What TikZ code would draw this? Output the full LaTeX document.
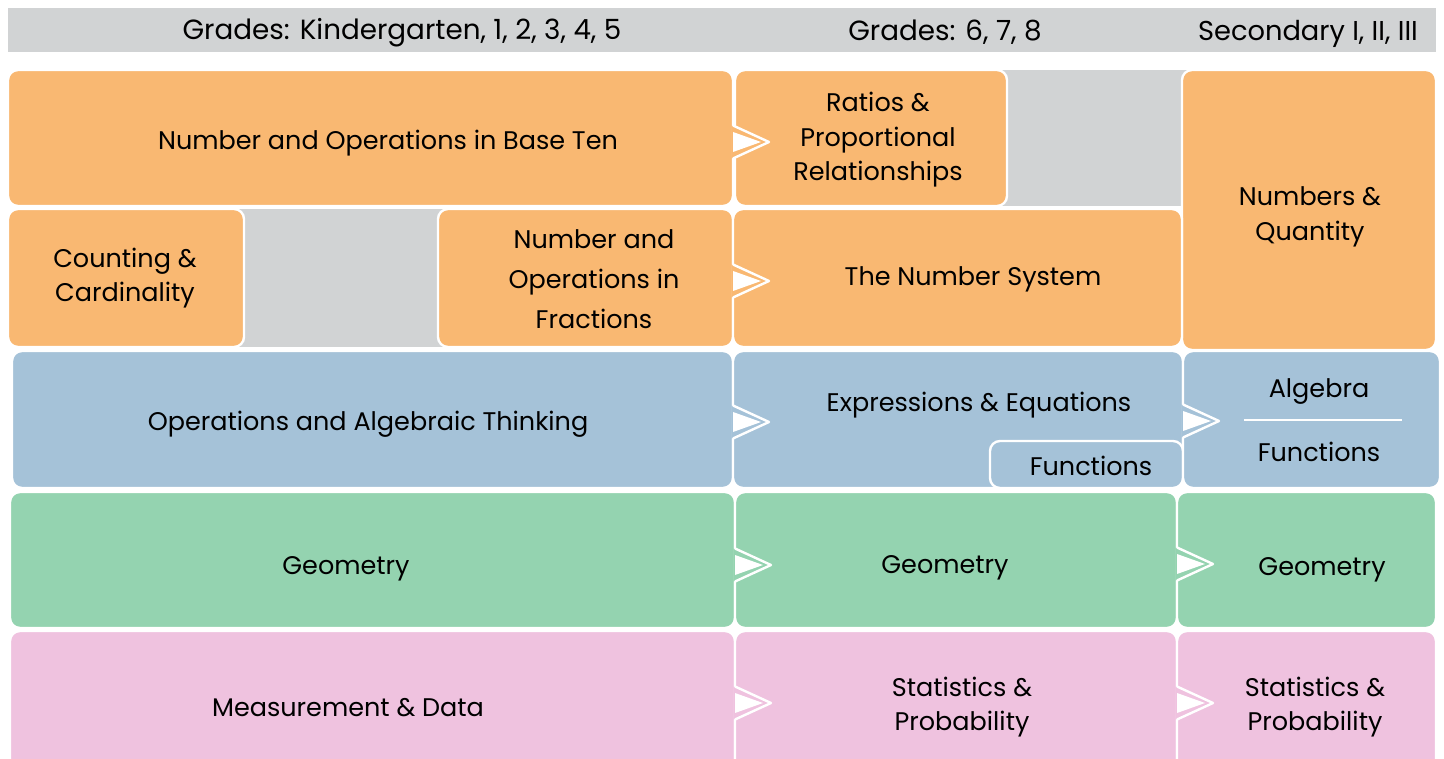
\documentclass[tikz,border=0pt]{standalone}
\usepackage{fontspec}
\setmainfont{Poppins}
\definecolor{cOr}{HTML}{F9B872}
\definecolor{cBl}{HTML}{A5C2D8}
\definecolor{cGr}{HTML}{94D3B0}
\definecolor{cPk}{HTML}{EFC2DF}
\definecolor{cGy}{HTML}{D1D3D4}
\newcommand\mynotch[3]{% x, y, colour
  \fill[#3] (#1-1.6,#2-16.5) -- (#1+36,#2) -- (#1-1.6,#2+16.5) -- cycle;
  \draw[white,line width=2.4pt,line join=round] (#1,#2-16.5) -- (#1+36,#2) -- (#1,#2+16.5);
  \fill[white] (#1,#2-10) -- (#1+28,#2) -- (#1,#2+10) -- cycle;
}
\begin{document}
\begin{tikzpicture}[x=1pt,y=-1pt,
  box/.style={draw=white,line width=2.4pt,rounded corners=10pt},
  lbl/.style={font=\fontsize{25.5}{34.5}\selectfont,align=center,inner sep=0pt,text=black,yshift=-3pt},
  hd/.style={font=\fontsize{27.8}{30}\selectfont,inner sep=0pt,text=black,yshift=-2.5pt}]
\useasboundingbox (0,0) rectangle (1444,759);
\clip (0,0) rectangle (1444,759);
% header
\fill[cGy] (8,8) rectangle (1436,52);
\node[hd] (h1) at (402,30) {Grades: Kindergarten, 1, 2, 3, 4, 5};
\node[hd] (h2) at (945,30) {Grades: 6, 7, 8};
\node[hd,font=\fontsize{27.3}{30}\selectfont] (h3) at (1308,31) {Secondary I, II, III};
% gray fillers
\fill[cGy] (995,70) rectangle (1195,206);
\fill[cGy] (235,209) rectangle (450,347);
% row 1 & 2 orange
\path[box,fill=cOr] (8,70) rectangle (733,206);
\path[box,fill=cOr] (735,70) rectangle (1007,206);
\path[box,fill=cOr] (1182,70) rectangle (1436,350);
\path[box,fill=cOr] (8,209) rectangle (244,347);
\path[box,fill=cOr] (438,209) rectangle (733,347);
\path[box,fill=cOr] (733,209) rectangle (1182,347);
% row 3 blue
\path[box,fill=cBl] (12,351) rectangle (733,488);
\path[box,fill=cBl] (733,351) rectangle (1183,488);
\path[box,fill=cBl] (990,441) rectangle (1183,488);
\path[box,fill=cBl] (1183,351) rectangle (1440,488);
% row 4 green
\path[box,fill=cGr] (10,492) rectangle (735,628);
\path[box,fill=cGr] (735,492) rectangle (1177,628);
\path[box,fill=cGr] (1177,492) rectangle (1436,628);
% row 5 pink
\path[box,fill=cPk] (10,631) rectangle (735,785);
\path[box,fill=cPk] (735,631) rectangle (1177,785);
\path[box,fill=cPk] (1177,631) rectangle (1436,785);
% notches
\mynotch{733}{142}{cOr}
\mynotch{733}{281}{cOr}
\mynotch{733}{422}{cBl}
\mynotch{1183}{421}{cBl}
\mynotch{735}{565}{cGr}
\mynotch{1177}{564}{cGr}
\mynotch{735}{703}{cPk}
\mynotch{1177}{703}{cPk}
% divider
\draw[white,line width=2.4pt] (1244,420) -- (1402,420);
% labels
\node[lbl] (nobt) at (388,140) {Number and Operations in Base Ten};
\node[lbl] (ratio) at (878,137) {Ratios \&\\Proportional\\Relationships};
\node[lbl] (nq) at (1310,214) {Numbers \&\\Quantity};
\node[lbl] (cc) at (125,275) {Counting \&\\Cardinality};
\node[lbl,font=\fontsize{25.5}{40}\selectfont] (nof) at (594,276) {Number and\\Operations in\\Fractions};
\node[lbl] (ns) at (973,276) {The Number System};
\node[lbl] (oat) at (368,421) {Operations and Algebraic Thinking};
\node[lbl] (ee) at (979,402) {Expressions \& Equations};
\node[lbl] (fn) at (1091,463) {Functions};
\node[lbl] (alg) at (1319,389) {Algebra};
\node[lbl] (fn2) at (1319,449) {Functions};
\node[lbl] (g1) at (346,566) {Geometry};
\node[lbl] (g2) at (945,565) {Geometry};
\node[lbl] (g3) at (1322,567) {Geometry};
\node[lbl] (md) at (348,705) {Measurement \& Data};
\node[lbl] (sp1) at (962,704) {Statistics \&\\Probability};
\node[lbl] (sp2) at (1315,704) {Statistics \&\\Probability};
\end{tikzpicture}
\end{document}
